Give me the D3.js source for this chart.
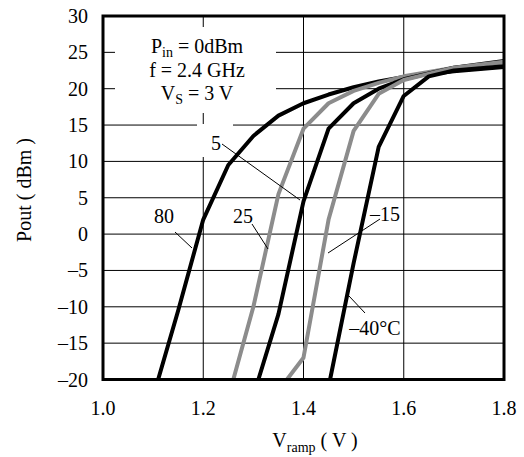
<!DOCTYPE html>
<meta charset="utf-8">
<title>Pout vs Vramp</title>
<style>
body { margin: 0; background: #fff; }
text { font-family: "Liberation Serif", "Times New Roman", serif; fill: #000; }
</style>
<body>
<script src="https://cdn.jsdelivr.net/npm/d3@7"></script>
<script>

var width = 524,
    height = 457;

// axis ticks
var xTicks = [1.0, 1.2, 1.4, 1.6, 1.8];
var yTicks = [-20, -15, -10, -5, 0, 5, 10, 15, 20, 25, 30];

// curves, one per temperature
var vramp80 = [1.11, 1.15, 1.2, 1.25, 1.3, 1.35, 1.4, 1.45, 1.5, 1.55, 1.6, 1.7, 1.8];
var pout80  = [-20, -10.5, 2, 9.5, 13.5, 16.3, 18, 19.2, 20.2, 21, 21.6, 22.4, 23.0];

var vramp25 = [1.26, 1.3, 1.35, 1.4, 1.45, 1.5, 1.55, 1.6, 1.7, 1.8];
var pout25  = [-20, -10, 5.5, 14.5, 18, 19.7, 20.8, 21.7, 22.9, 23.6];

var vramp5 = [1.31, 1.35, 1.4, 1.45, 1.5, 1.55, 1.6, 1.7, 1.8];
var pout5  = [-20, -11, 4.5, 14.5, 18, 20, 21.3, 22.9, 23.8];

var vrampM15 = [1.367, 1.4, 1.45, 1.5, 1.55, 1.6, 1.7, 1.8];
var poutM15  = [-20, -17, 2, 14.2, 19.3, 21.2, 22.9, 23.7];

var vrampM40 = [1.453, 1.5, 1.55, 1.6, 1.65, 1.7, 1.8];
var poutM40  = [-20, -4, 12, 19, 21.7, 22.5, 23.1];

var series = [
  {name: "80",  v: vramp80,  p: pout80,  color: "#000"},
  {name: "25",  v: vramp25,  p: pout25,  color: "#8c8c8c"},
  {name: "5",   v: vramp5,   p: pout5,   color: "#000"},
  {name: "-15", v: vrampM15, p: poutM15, color: "#8c8c8c"},
  {name: "-40", v: vrampM40, p: poutM40, color: "#000"}
];

var svg = d3.select("body").append("svg")
    .attr("width", width)
    .attr("height", height);

var x = d3.scaleLinear().domain([1.0, 1.8]).range([103, 504]);
var y = d3.scaleLinear().domain([-20, 30]).range([379.5, 16]);

// grid
svg.append("g").selectAll("line").data(xTicks).enter().append("line")
    .attr("x1", function(d){ return x(d); })
    .attr("x2", function(d){ return x(d); })
    .attr("y1", y(30)).attr("y2", y(-20))
    .attr("stroke", "#000").attr("stroke-width", 1);

svg.append("g").selectAll("line").data(yTicks).enter().append("line")
    .attr("y1", function(d){ return y(d); })
    .attr("y2", function(d){ return y(d); })
    .attr("x1", x(1.0)).attr("x2", x(1.8))
    .attr("stroke", "#000").attr("stroke-width", 1);

// white patches behind the notes, the grid is cut there
svg.append("rect").attr("x", 115).attr("y", 27).attr("width", 161).attr("height", 86).attr("fill", "#fff");
svg.append("rect").attr("x", 197).attr("y", 124).attr("width", 36).attr("height", 33).attr("fill", "#fff");

// curves
svg.append("clipPath").attr("id", "plot").append("rect")
    .attr("x", x(1.0)).attr("y", y(30))
    .attr("width", x(1.8) - x(1.0)).attr("height", y(-20) - y(30));

var line = d3.line()
    .x(function(d){ return x(d[0]); })
    .y(function(d){ return y(d[1]); });

svg.append("g").attr("clip-path", "url(#plot)")
  .selectAll("path").data(series).enter().append("path")
    .attr("d", function(s){ return line(d3.zip(s.v, s.p)); })
    .attr("fill", "none")
    .attr("stroke", function(s){ return s.color; })
    .attr("stroke-width", 4)
    .attr("stroke-linejoin", "round");

// frame
svg.append("rect")
    .attr("x", x(1.0)).attr("y", y(30))
    .attr("width", x(1.8) - x(1.0)).attr("height", y(-20) - y(30))
    .attr("fill", "none").attr("stroke", "#000").attr("stroke-width", 3);

// tick labels
svg.append("g").selectAll("text").data(xTicks).enter().append("text")
    .attr("x", function(d){ return x(d); })
    .attr("y", 415)
    .attr("text-anchor", "middle")
    .style("font-size", "20px")
    .text(function(d){ return d.toFixed(1); });

svg.append("g").selectAll("text").data(yTicks).enter().append("text")
    .attr("x", 88)
    .attr("y", function(d){ return y(d) + 7; })
    .attr("text-anchor", "end")
    .style("font-size", "20px")
    .text(function(d){ return d < 0 ? "\u2013" + (-d) : d; });

// axis titles
var xt = svg.append("text").attr("x", 315).attr("y", 447)
    .attr("text-anchor", "middle").style("font-size", "20px");
xt.append("tspan").text("V");
xt.append("tspan").attr("dy", 5).style("font-size", "14px").text("ramp");
xt.append("tspan").attr("dy", -5).text(" ( V )");

svg.append("text")
    .attr("transform", "translate(31,190) rotate(-90)")
    .attr("text-anchor", "middle")
    .style("font-size", "20px")
    .text("Pout  ( dBm )");

// condition note
var n1 = svg.append("text").attr("x", 197).attr("y", 53).attr("text-anchor", "middle").style("font-size", "20px");
n1.append("tspan").text("P");
n1.append("tspan").attr("dy", 4).style("font-size", "14px").text("in");
n1.append("tspan").attr("dy", -4).text(" = 0dBm");

svg.append("text").attr("x", 197).attr("y", 77).attr("text-anchor", "middle")
    .style("font-size", "20px").text("f = 2.4 GHz");

var n3 = svg.append("text").attr("x", 197).attr("y", 100).attr("text-anchor", "middle").style("font-size", "20px");
n3.append("tspan").text("V");
n3.append("tspan").attr("dy", 4).style("font-size", "14px").text("S");
n3.append("tspan").attr("dy", -4).text(" = 3 V");

// curve labels with leaders
var labels = [
  {t: "80",        tx: 164, ty: 223, x1: 175, y1: 232, x2: 192, y2: 248},
  {t: "25",        tx: 243, ty: 223, x1: 252, y1: 224, x2: 268, y2: 249},
  {t: "5",         tx: 216, ty: 150, x1: 222, y1: 144, x2: 300, y2: 200},
  {t: "\u201315",  tx: 385, ty: 221, x1: 380, y1: 219, x2: 328, y2: 253},
  {t: "\u201340\u00b0C", tx: 375, ty: 335, x1: 365, y1: 313, x2: 349, y2: 296}
];

svg.append("g").selectAll("line").data(labels).enter().append("line")
    .attr("x1", function(d){ return d.x1; }).attr("y1", function(d){ return d.y1; })
    .attr("x2", function(d){ return d.x2; }).attr("y2", function(d){ return d.y2; })
    .attr("stroke", "#000").attr("stroke-width", 1);

svg.append("g").selectAll("text").data(labels).enter().append("text")
    .attr("x", function(d){ return d.tx; })
    .attr("y", function(d){ return d.ty; })
    .attr("text-anchor", "middle")
    .style("font-size", "20px")
    .text(function(d){ return d.t; });

</script>
